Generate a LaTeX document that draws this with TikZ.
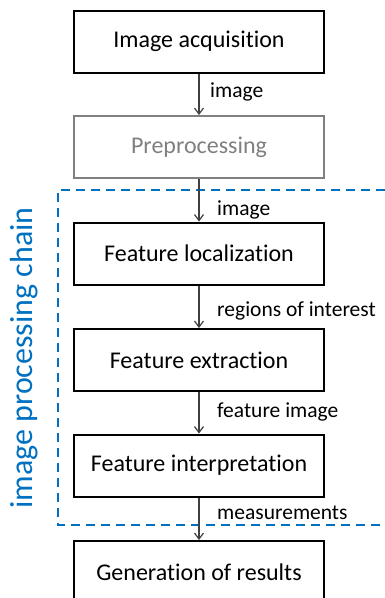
\documentclass[tikz,border=0pt]{standalone}
\usepackage{fontspec}
\setmainfont{Carlito}[RawFeature=-liga]
\usetikzlibrary{arrows.meta}
\definecolor{chainblue}{HTML}{0070C0}
\definecolor{arrowgray}{HTML}{404040}
\definecolor{fadedgray}{HTML}{808080}
\begin{document}
\begin{tikzpicture}[x=1pt,y=-1pt,
  stage/.style={draw=black, line width=2pt, minimum width=250pt, minimum height=62pt,
    inner sep=0pt, font=\fontsize{24}{28}\selectfont},
  faded/.style={stage, draw=fadedgray, text=fadedgray},
  flow/.style={draw=arrowgray, line width=1.3pt, -{Straight Barb[length=6pt,width=9pt,line width=1.2pt]}},
  flowlabel/.style={anchor=base west, inner sep=0pt, font=\fontsize{21.5}{24}\selectfont},
  chainbox/.style={draw=chainblue, line width=2.5pt, dash pattern=on 9pt off 6pt}]
\useasboundingbox (0,0) rectangle (384,598);

% processing stages
\node[stage]  (acq)    at (199,41.5)  {Image acquisition};
\node[faded]  (pre)    at (199,147)   {Preprocessing};
\node[stage]  (loc)    at (199,253.5) {Feature localization};
\node[stage]  (ext)    at (199,360)   {Feature extraction};
\node[stage]  (interp) at (199,465.5) {Feature interpretation};
\node[stage]  (gen)    at (199,572)   {Generation of results};

% dashed frame around the image processing chain
\draw[chainbox] (400,190) -- (58,190) -- (58,525) -- (400,525);
\node[rotate=90, anchor=base, inner sep=0pt, text=chainblue,
      font=\fontsize{32}{36}\selectfont] (chainlabel) at (32,358) {image processing chain};

% data flow between the stages
\draw[flow] (acq) -- (pre);
\draw[flow] (pre) -- (loc);
\draw[flow] (loc) -- (ext);
\draw[flow] (ext) -- (interp);
\draw[flow] (interp) -- (gen);

\node[flowlabel] (l1) at (210,97)  {image};
\node[flowlabel] (l2) at (217,215) {image};
\node[flowlabel] (l3) at (217,316.5) {regions of interest};
\node[flowlabel] (l4) at (217,417) {feature image};
\node[flowlabel] (l5) at (217,519) {measurements};
\end{tikzpicture}
\end{document}
